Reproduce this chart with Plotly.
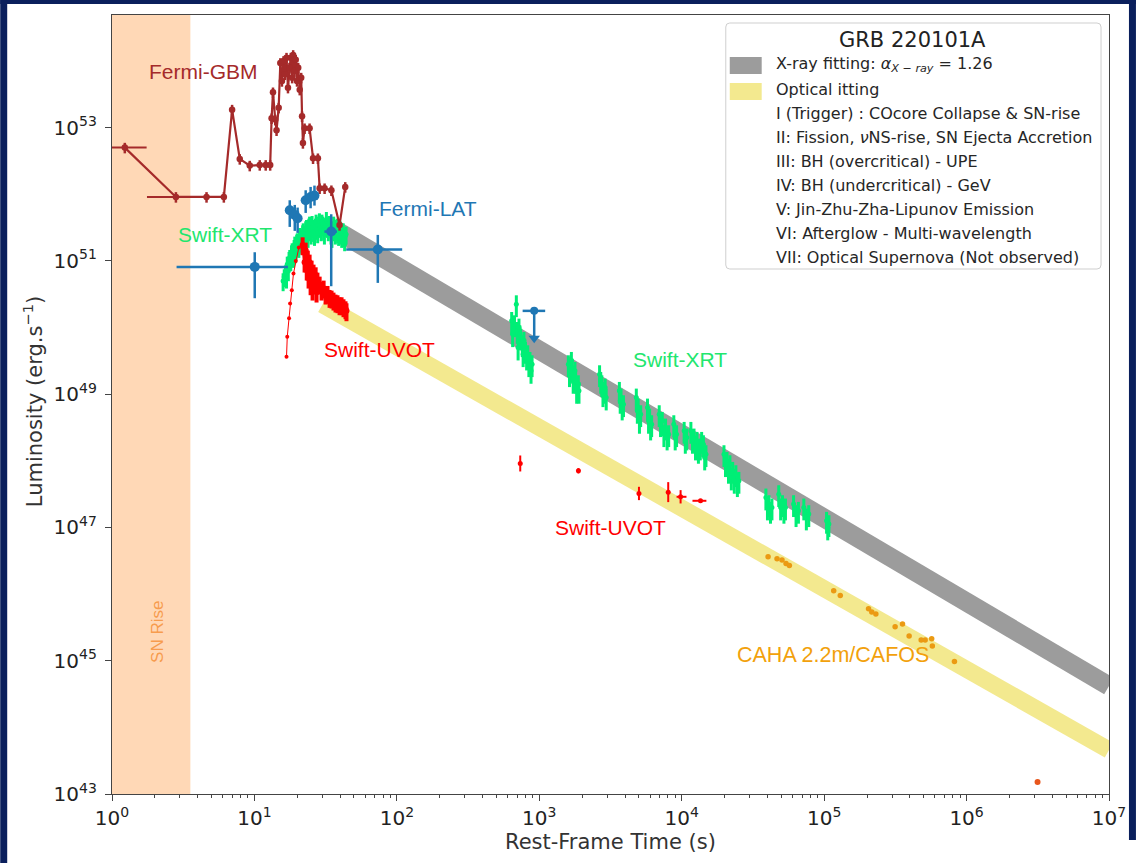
import numpy as np
import plotly.graph_objects as go

# ---------------- data (times in s, luminosities as log10 erg/s) ----------------
# Fermi-GBM prompt light curve
gbm_t = [1.23, 2.81, 4.61, 6.10, 6.97, 7.89, 9.27, 10.9, 12.0, 12.9, 13.2, 13.5, 14.0,
         14.3, 14.8, 15.2, 15.6, 16.0, 16.4, 16.8, 17.2, 17.6, 18.0, 18.4, 18.7, 19.1,
         19.5, 19.9, 20.3, 20.8, 21.3, 21.6, 21.9, 22.5, 24.4, 25.8, 27.9, 28.7, 31.1,
         34.7, 39.6, 43.4]
gbm_logL = [52.70, 51.96, 51.96, 51.96, 53.27, 52.53, 52.43, 52.44, 52.44, 52.44, 53.14,
            53.53, 53.12, 52.96, 53.30, 53.97, 53.70, 54.00, 53.80, 54.05, 53.60, 53.90,
            54.05, 53.75, 54.09, 53.85, 54.02, 53.70, 53.90, 53.57, 53.75, 53.17, 52.77,
            52.99, 52.99, 52.54, 52.54, 52.09, 52.09, 52.06, 51.54, 52.11]
gbm_bin_lo = [0.70, 1.76]          # time bins of the two first (long) GBM intervals
gbm_bin_hi = [1.75, 3.52]

# Fermi-LAT
lat_t = [10.05, 17.7, 19.2, 20.1, 22.9, 24.8, 26.4, 34.6, 73.5]
lat_logL = [50.91, 51.76, 51.69, 51.64, 51.91, 51.96, 51.98, 51.44, 51.17]
lat_t_lo = [2.84, 17.0, 18.5, 19.4, 22.0, 23.8, 25.4, 31.0, 44.1]
lat_t_hi = [17.2, 18.4, 20.0, 20.9, 23.8, 25.8, 27.4, 38.0, 109.0]
lat_logL_hi = [51.13, 51.91, 51.84, 51.80, 52.06, 52.11, 52.13, 51.70, 51.39]
lat_logL_lo = [50.44, 51.51, 51.45, 51.42, 51.72, 51.79, 51.83, 50.62, 50.67]
# Fermi-LAT upper limit
lat_ul_t, lat_ul_t_lo, lat_ul_t_hi = [921.0], [764.0], [1100.0]
lat_ul_logL, lat_ul_logL_tip = [50.25], [49.84]

# Swift-XRT
xrt_early_t = [15.9, 16.2, 16.5, 16.8, 17.0, 17.3, 17.5, 17.7, 18.0, 18.2, 18.4, 18.6,
               18.8, 19.0, 19.2, 19.4, 19.6, 19.8, 20.0, 20.2, 20.5, 20.8, 21.0, 21.3,
               21.5, 21.8, 22.0, 22.3, 22.6, 22.9, 23.2, 23.5, 23.8, 24.1, 24.4, 24.7,
               25.0, 25.4, 25.7, 26.0, 26.4, 26.8, 27.1, 27.5, 27.8, 28.2, 28.6, 29.0,
               29.4, 29.8, 30.2, 30.6, 31.0, 31.5, 32.0, 32.5, 33.0, 33.5, 34.0, 34.5,
               35.0, 35.5, 36.0, 36.5, 37.0, 37.5, 38.0, 38.5, 39.0, 39.5, 40.0, 40.5,
               41.0, 41.5, 42.0, 42.5, 43.0, 43.5, 44.0]
xrt_early_logL = [50.70, 50.76, 50.82, 50.74, 50.95, 50.85, 51.02, 51.05, 51.00, 51.12,
                  51.15, 51.08, 51.05, 51.20, 51.25, 51.12, 51.15, 51.28, 51.30, 51.22,
                  51.20, 51.38, 51.35, 51.28, 51.25, 51.42, 51.45, 51.35, 51.30, 51.48,
                  51.50, 51.40, 51.35, 51.52, 51.55, 51.45, 51.40, 51.56, 51.50, 51.44,
                  51.38, 51.52, 51.58, 51.47, 51.42, 51.55, 51.60, 51.50, 51.45, 51.58,
                  51.55, 51.46, 51.40, 51.52, 51.62, 51.50, 51.45, 51.56, 51.50, 51.40,
                  51.35, 51.48, 51.55, 51.45, 51.40, 51.50, 51.52, 51.42, 51.38, 51.46,
                  51.48, 51.40, 51.35, 51.44, 51.45, 51.36, 51.30, 51.38, 51.40]
xrt_late_t = [640, 650, 670, 690, 700, 710, 720, 730, 740, 760, 770, 780, 790, 800, 815,
              830, 845, 860, 875, 890,
              1600, 1630, 1650, 1680, 1700, 1730, 1750, 1780, 1800, 1830, 1850, 1880, 1900,
              2650, 2700, 2750, 2800, 2850, 2900, 2950,
              3650, 3700, 3750, 3820, 3900,
              4800, 4880, 4950, 5050, 5150,
              5750, 5850, 5950, 6050, 6150,
              6950, 7100, 7300, 7500, 7700, 7900, 8100,
              8800, 9000, 9200,
              10400, 10600, 10850,
              11600, 11900, 12200, 12500, 12800, 13100, 13500, 13800, 14200, 14500, 14800,
              19800, 20300, 20800, 21300, 21800, 22300, 22800, 23400, 24000, 24600, 25200,
              39000, 40000, 41000, 42000, 43000,
              48000, 49500, 51000, 52200, 53500,
              61000, 63500, 66000,
              72000, 75000, 78000,
              104000, 106000, 108000]
xrt_late_logL = [50.10, 49.90, 50.05, 50.35, 49.95, 49.70, 50.00, 49.90, 49.85, 49.75,
                 49.60, 49.80, 49.70, 49.65, 49.55, 49.60, 49.45, 49.50, 49.35, 49.45,
                 49.45, 49.30, 49.35, 49.50, 49.40, 49.20, 49.25, 49.35, 49.20, 49.05,
                 49.10, 49.15, 49.05,
                 49.30, 49.20, 49.15, 49.00, 49.05, 49.10, 48.95,
                 49.05, 48.90, 48.95, 48.80, 48.85,
                 48.95, 48.75, 48.80, 48.60, 48.70,
                 48.80, 48.60, 48.65, 48.50, 48.55,
                 48.70, 48.55, 48.60, 48.40, 48.50, 48.35, 48.40,
                 48.55, 48.35, 48.40,
                 48.45, 48.30, 48.35,
                 48.45, 48.30, 48.35, 48.20, 48.30, 48.15, 48.20, 48.30, 48.25, 48.05, 48.10,
                 48.10, 47.95, 48.00, 47.85, 47.95, 47.75, 47.85, 47.70, 47.80, 47.65, 47.70,
                 47.45, 47.30, 47.35, 47.25, 47.30,
                 47.50, 47.30, 47.35, 47.25, 47.30,
                 47.35, 47.20, 47.25,
                 47.30, 47.15, 47.20,
                 47.10, 47.00, 47.05]

# Swift-UVOT
uvot_rise_t = [16.8, 17.0, 17.5, 17.8, 18.3, 18.8, 19.5, 20.5]
uvot_rise_logL = [49.56, 49.86, 50.14, 50.36, 50.56, 50.81, 51.00, 51.20]
uvot_t = [21.8, 22.5, 22.9, 23.3, 23.7, 24.0, 24.4, 24.8, 25.2, 25.6, 26.0, 26.4, 26.9,
          27.3, 27.7, 28.7, 29.6, 30.6, 31.6, 32.6, 33.7, 34.8, 35.9, 37.1, 38.3, 39.6,
          40.9, 42.2, 43.6, 44.3]
uvot_logL = [51.24, 50.98, 51.16, 50.86, 51.04, 50.74, 50.98, 50.64, 50.89, 50.56, 50.83,
             50.68, 50.79, 50.53, 50.71, 50.65, 50.56, 50.59, 50.50, 50.51, 50.45, 50.44,
             50.41, 50.38, 50.37, 50.34, 50.34, 50.31, 50.28, 50.25]
uvot_late_t = [735, 1883, 5010, 8040, 9820, 13550]
uvot_late_logL = [47.96, 47.85, 47.51, 47.53, 47.46, 47.40]
uvot_late_dex = [0.12, 0.04, 0.10, 0.15, 0.10, 0.0]
uvot_late_t_lo = [735, 1883, 5010, 8040, 9200, 11900]
uvot_late_t_hi = [735, 1883, 5010, 8040, 10800, 14900]

# CAHA 2.2m/CAFOS optical
caha_t = [40400, 46700, 50600, 54000, 57000, 116700, 129800, 205000, 216000, 230700,
          315000, 355000, 395000, 480000, 512000, 569000, 575000, 822000]
caha_logL = [46.56, 46.53, 46.51, 46.46, 46.43, 46.05, 45.98, 45.78, 45.73, 45.70,
             45.51, 45.55, 45.37, 45.31, 45.31, 45.33, 45.22, 44.99]
caha_late_t = [3.15e6]
caha_late_logL = [43.18]

# power-law fits  log L = norm - alpha * log t
xray_alpha, xray_norm, xray_span = 1.26, 53.44, [38.0, 1.0e7]
opt_alpha, opt_norm, opt_span = 1.21, 52.13, [30.0, 1.0e7]

sn_rise_end = 3.55  # s

legend_title = "GRB 220101A"
legend_rows = [
    "X-ray fitting: <i>α</i><sub><i>X − ray</i></sub> = 1.26",
    "Optical itting",
    "I (Trigger) : COcore Collapse &amp; SN-rise",
    "II: Fission, <i>ν</i>NS-rise, SN Ejecta Accretion",
    "III: BH (overcritical) - UPE",
    "IV: BH (undercritical) - GeV",
    "V: Jin-Zhu-Zha-Lipunov Emission",
    "VI: Afterglow - Multi-wavelength",
    "VII: Optical Supernova (Not observed)",
]

# ---------------- colours ----------------
C_GBM = "#a52a2a"
C_LAT = "#1f77b4"
C_XRT = "#00ee76"
C_UVOT = "#ff0000"
C_CAHA = "#eb9a12"
C_CAHA2 = "#e8561c"
C_XFIT = "#9c9c9c"
C_OFIT = "#f3e98f"
NAVY = "#0a1f5c"

# ---------------- geometry (pixels) ----------------
W, H = 1138, 863
PL, PR, PT, PB = 112, 1111, 15, 794


def fx(px):
    return (px - PL) / (PR - PL)


def fy(py):
    return (PB - py) / (PB - PT)


def lin(logv):
    return np.power(10.0, np.asarray(logv, dtype=float))


def yerr(logv, dex_up, dex_dn=None):
    logv = np.asarray(logv, float)
    dex_up = np.asarray(dex_up, float)
    dex_dn = dex_up if dex_dn is None else np.asarray(dex_dn, float)
    return (lin(logv + dex_up) - lin(logv)), (lin(logv) - lin(logv - dex_dn))


fig = go.Figure()

# fitted power-law bands
for alpha, norm, span, col, w in [(xray_alpha, xray_norm, xray_span, C_XFIT, 19),
                                  (opt_alpha, opt_norm, opt_span, C_OFIT, 17)]:
    t = np.array(span)
    fig.add_trace(go.Scatter(x=t, y=lin(norm - alpha * np.log10(t)), mode="lines",
                             line=dict(color=col, width=w), hoverinfo="skip"))

# Swift-XRT
fig.add_trace(go.Scatter(
    x=xrt_early_t, y=lin(xrt_early_logL), mode="markers",
    marker=dict(color=C_XRT, size=5),
    error_y=dict(type="percent", value=30, color=C_XRT, thickness=3, width=0)))
fig.add_trace(go.Scatter(
    x=xrt_late_t, y=lin(xrt_late_logL), mode="markers",
    marker=dict(color=C_XRT, size=5),
    error_y=dict(type="percent", value=36, color=C_XRT, thickness=3, width=0)))

# Swift-UVOT
fig.add_trace(go.Scatter(
    x=uvot_rise_t, y=lin(uvot_rise_logL), mode="lines+markers",
    line=dict(color=C_UVOT, width=1), marker=dict(color=C_UVOT, size=4)))
fig.add_trace(go.Scatter(
    x=uvot_t, y=lin(uvot_logL), mode="lines+markers",
    line=dict(color=C_UVOT, width=2.5), marker=dict(color=C_UVOT, size=6),
    error_y=dict(type="percent", value=30, color=C_UVOT, thickness=4, width=0)))
up, dn = yerr(uvot_late_logL, uvot_late_dex)
fig.add_trace(go.Scatter(
    x=uvot_late_t, y=lin(uvot_late_logL), mode="markers",
    marker=dict(color=C_UVOT, size=5),
    error_y=dict(type="data", array=up, arrayminus=dn, symmetric=False,
                 color=C_UVOT, thickness=2, width=0),
    error_x=dict(type="data", symmetric=False,
                 array=np.array(uvot_late_t_hi) - np.array(uvot_late_t),
                 arrayminus=np.array(uvot_late_t) - np.array(uvot_late_t_lo),
                 color=C_UVOT, thickness=2, width=0)))

# Fermi-GBM
g_hi = np.zeros(len(gbm_t))
g_lo = np.zeros(len(gbm_t))
g_hi[:2] = np.array(gbm_bin_hi) - np.array(gbm_t[:2])
g_lo[:2] = np.array(gbm_t[:2]) - np.array(gbm_bin_lo)
fig.add_trace(go.Scatter(
    x=gbm_t, y=lin(gbm_logL), mode="lines+markers",
    line=dict(color=C_GBM, width=2.2), marker=dict(color=C_GBM, size=6.5),
    error_y=dict(type="percent", value=18, color=C_GBM, thickness=2.5, width=0),
    error_x=dict(type="data", symmetric=False, array=g_hi, arrayminus=g_lo,
                 color=C_GBM, thickness=2, width=0)))

# Fermi-LAT
up, dn = lin(lat_logL_hi) - lin(lat_logL), lin(lat_logL) - lin(lat_logL_lo)
fig.add_trace(go.Scatter(
    x=lat_t, y=lin(lat_logL), mode="markers",
    marker=dict(color=C_LAT, size=10),
    error_y=dict(type="data", array=up, arrayminus=dn, symmetric=False,
                 color=C_LAT, thickness=2.5, width=0),
    error_x=dict(type="data", symmetric=False,
                 array=np.array(lat_t_hi) - np.array(lat_t),
                 arrayminus=np.array(lat_t) - np.array(lat_t_lo),
                 color=C_LAT, thickness=2.5, width=0)))
# Fermi-LAT upper limit (bar + downward arrow)
fig.add_trace(go.Scatter(
    x=lat_ul_t + lat_ul_t, y=lin(lat_ul_logL + lat_ul_logL_tip), mode="lines",
    line=dict(color=C_LAT, width=2.5)))
fig.add_trace(go.Scatter(
    x=lat_ul_t, y=lin(lat_ul_logL_tip), mode="markers",
    marker=dict(color=C_LAT, size=10, symbol="triangle-down")))
fig.add_trace(go.Scatter(
    x=lat_ul_t, y=lin(lat_ul_logL), mode="markers",
    marker=dict(color=C_LAT, size=8),
    error_x=dict(type="data", symmetric=False,
                 array=np.array(lat_ul_t_hi) - np.array(lat_ul_t),
                 arrayminus=np.array(lat_ul_t) - np.array(lat_ul_t_lo),
                 color=C_LAT, thickness=2.5, width=0)))

# CAHA optical
fig.add_trace(go.Scatter(x=caha_t, y=lin(caha_logL), mode="markers",
                         marker=dict(color=C_CAHA, size=5.5)))
fig.add_trace(go.Scatter(x=caha_late_t, y=lin(caha_late_logL), mode="markers",
                         marker=dict(color=C_CAHA2, size=6)))

# ---------------- shapes ----------------
shapes = [
    dict(type="rect", xref="x", yref="paper", x0=1, x1=sn_rise_end, y0=0, y1=1,
         fillcolor="rgba(255,127,14,0.3)", line=dict(width=0), layer="below"),
]


def rounded_rect(x0, y0, x1, y1, r):
    # rounded rectangle given in pixels, returned as a paper-referenced SVG path
    pts = [f"M{fx(x0 + r)},{fy(y0)}", f"L{fx(x1 - r)},{fy(y0)}",
           f"Q{fx(x1)},{fy(y0)} {fx(x1)},{fy(y0 + r)}", f"L{fx(x1)},{fy(y1 - r)}",
           f"Q{fx(x1)},{fy(y1)} {fx(x1 - r)},{fy(y1)}", f"L{fx(x0 + r)},{fy(y1)}",
           f"Q{fx(x0)},{fy(y1)} {fx(x0)},{fy(y1 - r)}", f"L{fx(x0)},{fy(y0 + r)}",
           f"Q{fx(x0)},{fy(y0)} {fx(x0 + r)},{fy(y0)}", "Z"]
    return " ".join(pts)


# legend frame and patches
shapes.append(dict(type="path", xref="paper", yref="paper",
                   path=rounded_rect(727, 23, 1103, 269, 4),
                   fillcolor="rgba(255,255,255,0.85)",
                   line=dict(color="#cfcfcf", width=1), layer="above"))
shapes.append(dict(type="rect", xref="paper", yref="paper", x0=fx(731), x1=fx(763),
                   y0=fy(74), y1=fy(57), fillcolor=C_XFIT, line=dict(width=0), layer="above"))
shapes.append(dict(type="rect", xref="paper", yref="paper", x0=fx(731), x1=fx(763),
                   y0=fy(100), y1=fy(83), fillcolor=C_OFIT, line=dict(width=0), layer="above"))
# dark page frame
shapes += [
    dict(type="rect", xref="paper", yref="paper", x0=fx(0), x1=fx(7), y0=fy(H), y1=fy(0),
         fillcolor=NAVY, line=dict(width=0), layer="above"),
    dict(type="rect", xref="paper", yref="paper", x0=fx(0), x1=fx(W), y0=fy(4), y1=fy(0),
         fillcolor=NAVY, line=dict(width=0), layer="above"),
    dict(type="rect", xref="paper", yref="paper", x0=fx(1131), x1=fx(W), y0=fy(840), y1=fy(0),
         fillcolor=NAVY, line=dict(width=0), layer="above"),
]

# ---------------- annotations ----------------
ann = []


def label(text, x, y, color, size=21, family="Liberation Sans, Arial, sans-serif",
          xanchor="center", angle=0):
    ann.append(dict(text=text, x=fx(x), y=fy(y), xref="paper", yref="paper",
                    showarrow=False, xanchor=xanchor, yanchor="middle", textangle=angle,
                    font=dict(color=color, size=size, family=family)))


label("Fermi-GBM", 204, 72, C_GBM)
label("Fermi-LAT", 429, 208, C_LAT)
label("Swift-XRT", 225, 235, "#22e66e")
label("Swift-UVOT", 380, 349, C_UVOT)
label("Swift-XRT", 681, 360, "#22e66e")
label("Swift-UVOT", 611, 527, C_UVOT)
label("CAHA 2.2m/CAFOS", 834, 655, "#f2a10c", size=21.5)
label("SN Rise", 157, 632, "rgba(245,140,50,0.8)", size=17, angle=-90)

legend_font = "DejaVu Sans, Verdana, sans-serif"
label(legend_title, 914, 40, "#222222", size=21, family=legend_font)
for i, row in enumerate(legend_rows):
    label(row, 775, 65 + i * 24.1, "#262626", size=16, family=legend_font, xanchor="left")

# axis titles
label("Rest-Frame Time (s)", 612, 842, "#333333", size=21, family=legend_font)
label("Luminosity (erg.s<sup>−1</sup>)", 33, 402, "#333333", size=21, family=legend_font,
      angle=-90)

# ---------------- axes ----------------
x_major = [10.0 ** k for k in range(0, 8)]
x_minor = [m * 10.0 ** k for k in range(0, 7) for m in range(2, 10)]
y_major = [10.0 ** k for k in range(43, 55, 2)]

axis_col = "#444444"
tick_font = dict(family=legend_font, size=20, color="#222222")
fig.update_xaxes(type="log", range=[0, 7], tickmode="array", tickvals=x_major,
                 ticktext=[f"10<sup>{k}</sup>" for k in range(0, 8)],
                 ticks="outside", ticklen=6, tickwidth=1.2, tickcolor=axis_col,
                 minor=dict(ticks="outside", ticklen=3, tickwidth=1, tickcolor=axis_col,
                            tickmode="array", tickvals=x_minor),
                 showline=True, mirror=True, linecolor=axis_col, linewidth=1.3,
                 showgrid=False, zeroline=False, tickfont=tick_font)
fig.update_yaxes(type="log", range=[43, 54.69], tickmode="array", tickvals=y_major,
                 ticktext=[f"10<sup>{k}</sup>" for k in range(43, 55, 2)],
                 ticks="outside", ticklen=6, tickwidth=1.2, tickcolor=axis_col,
                 showline=True, mirror=True, linecolor=axis_col, linewidth=1.3,
                 showgrid=False, zeroline=False, ticklabelstandoff=4, tickfont=tick_font)

fig.update_layout(width=W, height=H, margin=dict(l=PL, r=W - PR, t=PT, b=H - PB),
                  paper_bgcolor="white", plot_bgcolor="white", showlegend=False,
                  shapes=shapes, annotations=ann)

fig.write_html("out.html", config={"displayModeBar": False})
